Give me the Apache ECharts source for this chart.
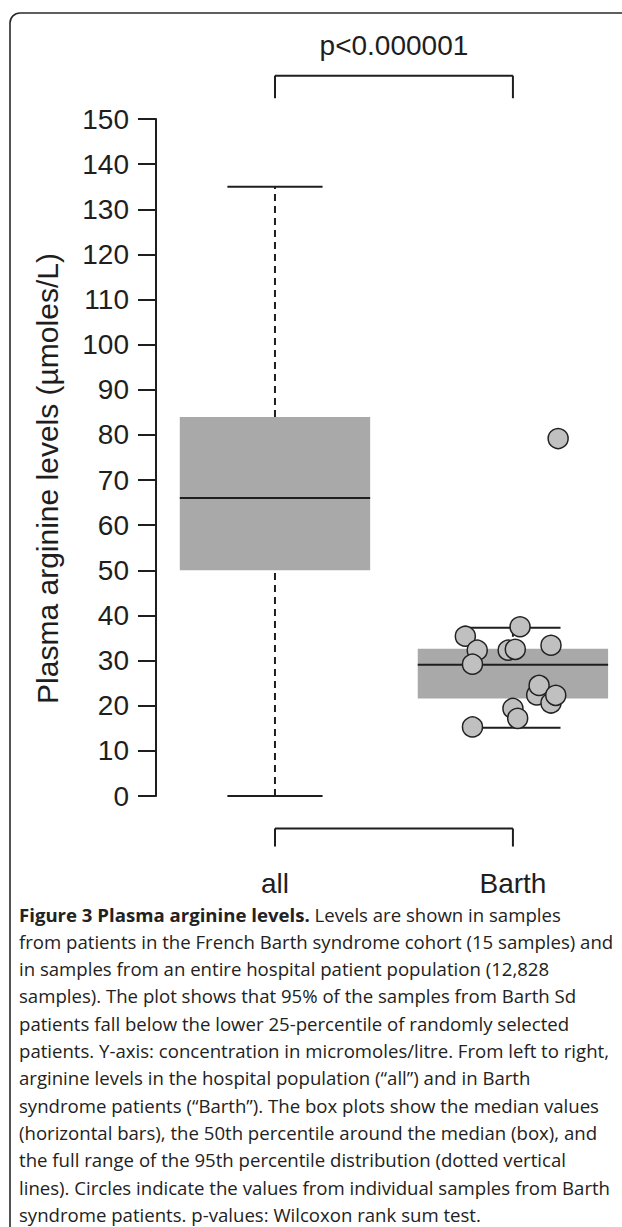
<!DOCTYPE html>
<html>
<head>
<meta charset="utf-8">
<script src="https://cdn.jsdelivr.net/npm/echarts@6/dist/echarts.min.js"></script>
<style>
html,body{margin:0;padding:0;background:#fff;}
#chart{width:622px;height:1227px;}
</style>
</head>
<body>
<div id="chart"></div>
<script>
// ---------- data ----------
const categories = ['all', 'Barth'];
// [lower whisker, Q1, median, Q3, upper whisker]
const boxAll   = [0, 50, 66, 84, 135];
const boxBarth = [15.1, 21.6, 29.1, 32.6, 37.3];
// individual Barth samples (x = jittered position around category 2)
const barthJitter = [2.19, 2.03, 1.80, 2.16, 1.85, 1.98, 2.01, 1.83, 2.10, 2.11, 2.16, 2.18, 2.00, 2.02, 1.83];
const barthValues = [79.2, 37.5, 35.4, 33.4, 32.3, 32.3, 32.5, 29.2, 22.4, 24.5, 20.6, 22.3, 19.4, 17.2, 15.3];
const yMin = 0, yMax = 150, yStep = 10;
const yAxisTitle = 'Plasma arginine levels (µmoles/L)';
const pLabel = 'p<0.000001';
const captionLines = [
  '{b|Figure 3 Plasma arginine levels.} Levels are shown in samples',
  'from patients in the French Barth syndrome cohort (15 samples) and',
  'in samples from an entire hospital patient population (12,828',
  'samples). The plot shows that 95% of the samples from Barth Sd',
  'patients fall below the lower 25-percentile of randomly selected',
  'patients. Y-axis: concentration in micromoles/litre. From left to right,',
  'arginine levels in the hospital population (“all”) and in Barth',
  'syndrome patients (“Barth”). The box plots show the median values',
  '(horizontal bars), the 50th percentile around the median (box), and',
  'the full range of the 95th percentile distribution (dotted vertical',
  'lines). Circles indicate the values from individual samples from Barth',
  'syndrome patients. p-values: Wilcoxon rank sum test.'
];

// ---------- build ----------
const boxData = [boxAll, boxBarth].map((s, i) => [i + 1].concat(s));
const pointData = barthValues.map((v, i) => [barthJitter[i], v]);
const INK = '#1e1e1e';
const FONT = 'Liberation Sans, Arial, sans-serif';
const CAP_FONT = 'Open Sans, sans-serif';
const CAP_SIZE = 18.6;

function renderBox(params, api) {
  const x = api.value(0);
  const lo = api.value(1), q1 = api.value(2), med = api.value(3), q3 = api.value(4), hi = api.value(5);
  const hb = 0.4, hc = 0.2;
  const c = (xx, yy) => api.coord([xx, yy]);
  const tl = c(x - hb, q3), br = c(x + hb, q1);
  const line = (a, b, dash) => ({
    type: 'line',
    shape: {x1: a[0], y1: a[1], x2: b[0], y2: b[1]},
    style: {stroke: INK, lineWidth: 2, lineDash: dash || null}
  });
  return {
    type: 'group',
    children: [
      line(c(x, q3), c(x, hi), [7, 5]),
      line(c(x, lo), c(x, q1), [7, 5]),
      line(c(x - hc, hi), c(x + hc, hi)),
      line(c(x - hc, lo), c(x + hc, lo)),
      {type: 'rect', shape: {x: tl[0], y: tl[1], width: br[0] - tl[0], height: br[1] - tl[1]},
       style: {fill: '#a9a9a9', stroke: null}},
      line(c(x - hb, med), c(x + hb, med))
    ]
  };
}

function renderAnnot(params, api) {
  const x1 = api.value(0), x2 = api.value(1);
  const c = (xx, yy) => api.coord([xx, yy]);
  const seg = (a, b) => ({type: 'line', shape: {x1: a[0], y1: a[1], x2: b[0], y2: b[1]},
    style: {stroke: INK, lineWidth: 2}});
  const topY = 159.6, topDrop = 154.6, botY = -7.2, botDrop = -11.2;
  const pPos = c((x1 + x2) / 2, 166.3);
  return {
    type: 'group',
    children: [
      seg(c(x1, topDrop), c(x1, topY)), seg(c(x1, topY), c(x2, topY)), seg(c(x2, topY), c(x2, topDrop)),
      seg(c(x1, botDrop), c(x1, botY)), seg(c(x1, botY), c(x2, botY)), seg(c(x2, botY), c(x2, botDrop)),
      {type: 'text', x: pPos[0], y: pPos[1],
       style: {text: pLabel, fontSize: 28, fontFamily: FONT, fill: INK, align: 'center', verticalAlign: 'middle'}}
    ]
  };
}

function renderCat(params, api) {
  const p = api.coord([api.value(0), -19.3]);
  return {type: 'text', x: p[0], y: p[1],
    style: {text: categories[params.dataIndex], fontSize: 28, fontFamily: FONT, fill: INK,
      align: 'center', verticalAlign: 'middle', lineHeight: 28}};
}

const chart = echarts.init(document.getElementById('chart'), null, {renderer: 'svg'});

const captionGraphics = captionLines.map((t, i) => ({
  type: 'text', left: 19, top: 903 + i * 27.3,
  style: {
    text: t, fontSize: CAP_SIZE, fontFamily: CAP_FONT, fill: '#222', lineHeight: 22,
    rich: {b: {fontWeight: 'bold', fontSize: CAP_SIZE, fontFamily: CAP_FONT, fill: '#222', lineHeight: 22}}
  }
}));

chart.setOption({
  backgroundColor: '#fff',
  animation: false,
  grid: {left: 156, top: 119, width: 464, height: 677},
  xAxis: {type: 'value', min: 0.5, max: 2.45, show: false},
  yAxis: {
    type: 'value', min: yMin, max: yMax, interval: yStep,
    axisLine: {show: true, lineStyle: {color: INK, width: 2}},
    axisTick: {show: true, length: 18, lineStyle: {color: INK, width: 2}},
    axisLabel: {margin: 27, fontSize: 28, fontFamily: FONT, color: INK},
    splitLine: {show: false},
    name: yAxisTitle, nameLocation: 'middle', nameGap: 94,
    nameTextStyle: {fontSize: 30, fontFamily: FONT, color: INK, padding: [0, 42, 0, 0]}
  },
  graphic: [
    {type: 'rect', shape: {x: 10, y: 13, width: 760, height: 1400, r: 10},
     style: {fill: 'none', stroke: '#2a2a2a', lineWidth: 1.6}, silent: true}
  ].concat(captionGraphics),
  series: [
    {type: 'custom', name: 'box', data: boxData, renderItem: renderBox, clip: false, z: 2},
    {type: 'custom', name: 'annot', data: [[1, 2]], renderItem: renderAnnot, clip: false, z: 2},
    {type: 'custom', name: 'cats', data: categories.map((c, i) => [i + 1]), renderItem: renderCat, clip: false, z: 2},
    {type: 'scatter', name: 'Barth samples', data: pointData, symbol: 'circle', symbolSize: 20,
     itemStyle: {color: '#c0c0c0', borderColor: '#222', borderWidth: 1.5, opacity: 1}, z: 5, clip: false}
  ]
});
</script>
</body>
</html>
